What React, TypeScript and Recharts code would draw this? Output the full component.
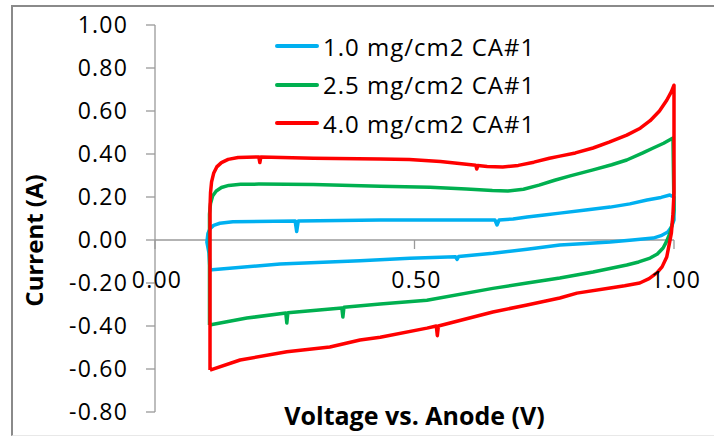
import React from 'react';
import { LineChart, Line, XAxis, YAxis, ReferenceLine, ReferenceDot, Legend } from 'recharts';

const AXIS = '#9a9a9a';
const FONT = '"Open Sans", sans-serif';

const xTicks = [0, 0.5, 1];
const yTicks = [-0.8, -0.6, -0.4, -0.2, 0, 0.2, 0.4, 0.6, 0.8, 1.0];

// 1.0 mg/cm2 CA#1 (forward scan then reverse scan)
const blueV = [0.106, 0.104, 0.1, 0.102, 0.106, 0.113, 0.125, 0.15, 0.27, 0.273, 0.276, 0.434, 0.524, 0.655, 0.659, 0.663, 0.69, 0.717, 0.75, 0.78, 0.83, 0.877, 0.915, 0.948, 0.975, 0.992, 1.0, 1.0, 0.995, 0.988, 0.975, 0.96, 0.92, 0.877, 0.83, 0.78, 0.717, 0.651, 0.585, 0.582, 0.579, 0.491, 0.395, 0.241, 0.11, 0.106];
const blueI = [-0.14, -0.06, -0.01, 0.03, 0.052, 0.068, 0.078, 0.085, 0.088, 0.04, 0.088, 0.093, 0.093, 0.093, 0.07, 0.093, 0.098, 0.107, 0.116, 0.125, 0.14, 0.153, 0.168, 0.186, 0.198, 0.209, 0.2, 0.093, 0.06, 0.037, 0.02, 0.009, 0.0, -0.009, -0.016, -0.023, -0.043, -0.062, -0.077, -0.09, -0.078, -0.085, -0.097, -0.112, -0.138, -0.14];

// 2.5 mg/cm2 CA#1
const greenV = [0.105, 0.105, 0.107, 0.111, 0.118, 0.128, 0.142, 0.165, 0.2, 0.305, 0.434, 0.53, 0.6, 0.65, 0.68, 0.71, 0.74, 0.77, 0.8, 0.844, 0.88, 0.909, 0.94, 0.96, 0.98, 0.998, 1.0, 0.997, 0.992, 0.985, 0.979, 0.968, 0.954, 0.932, 0.909, 0.844, 0.78, 0.717, 0.651, 0.524, 0.434, 0.364, 0.362, 0.36, 0.256, 0.254, 0.252, 0.177, 0.105];
const greenI = [-0.395, 0.12, 0.17, 0.205, 0.228, 0.244, 0.254, 0.259, 0.26, 0.258, 0.25, 0.245, 0.237, 0.23, 0.228, 0.236, 0.255, 0.278, 0.298, 0.326, 0.35, 0.372, 0.405, 0.428, 0.45, 0.474, 0.14, 0.08, 0.03, -0.01, -0.037, -0.065, -0.084, -0.102, -0.116, -0.149, -0.177, -0.2, -0.225, -0.28, -0.298, -0.313, -0.358, -0.316, -0.338, -0.386, -0.34, -0.363, -0.395];

// 4.0 mg/cm2 CA#1
const redV = [0.106, 0.106, 0.107, 0.109, 0.113, 0.119, 0.128, 0.141, 0.16, 0.2, 0.202, 0.204, 0.305, 0.434, 0.49, 0.55, 0.6, 0.618, 0.62, 0.622, 0.64, 0.67, 0.7, 0.73, 0.76, 0.78, 0.81, 0.844, 0.875, 0.909, 0.935, 0.954, 0.972, 0.986, 0.995, 1.0, 1.0, 0.998, 0.995, 0.99, 0.986, 0.977, 0.967, 0.952, 0.934, 0.905, 0.877, 0.813, 0.78, 0.717, 0.651, 0.546, 0.544, 0.542, 0.524, 0.434, 0.395, 0.337, 0.254, 0.164, 0.106];
const redI = [-0.605, 0.15, 0.22, 0.27, 0.31, 0.34, 0.36, 0.375, 0.384, 0.386, 0.36, 0.386, 0.38, 0.377, 0.374, 0.365, 0.352, 0.348, 0.33, 0.346, 0.342, 0.34, 0.347, 0.362, 0.38, 0.39, 0.405, 0.428, 0.455, 0.488, 0.52, 0.555, 0.6, 0.65, 0.69, 0.72, 0.22, 0.12, 0.033, -0.03, -0.079, -0.125, -0.153, -0.18, -0.2, -0.213, -0.223, -0.247, -0.27, -0.302, -0.335, -0.4, -0.445, -0.4, -0.41, -0.452, -0.465, -0.498, -0.52, -0.558, -0.605];

const toPoints = (v: number[], i: number[]) => v.map((x, k) => ({ v: x, i: i[k] }));

const series = [
  { name: '1.0 mg/cm2 CA#1', color: '#00B0F0', data: toPoints(blueV, blueI) },
  { name: '2.5 mg/cm2 CA#1', color: '#00B050', data: toPoints(greenV, greenI) },
  { name: '4.0 mg/cm2 CA#1', color: '#FF0000', data: toPoints(redV, redI) },
];

const renderLegend = ({ payload }: any) => (
  <div>
    {(payload || []).map((p: any) => (
      <div key={p.value} style={{ display: 'flex', alignItems: 'center', height: 38.5 }}>
        <span style={{ display: 'inline-block', width: 44, height: 4, background: p.color, borderRadius: 2, marginRight: 4 }} />
        <span style={{ fontFamily: FONT, fontSize: 24, letterSpacing: 1, color: '#000', whiteSpace: 'nowrap' }}>{p.value}</span>
      </div>
    ))}
  </div>
);

// tick mark + label for the x axis, which crosses at y = 0
const xTickShape = (label: string) => (p: any) => (
  <g>
    <line x1={p.cx} y1={p.cy} x2={p.cx} y2={p.cy + 9} stroke={AXIS} strokeWidth={1.3} />
    <text x={p.cx + 2} y={p.cy + 48} textAnchor="middle" fontFamily={FONT} fontSize={23} letterSpacing={1.2} fill="#000">
      {label}
    </text>
  </g>
);

export default function App() {
  return (
    <div style={{ position: 'absolute', left: 0, top: 0, width: 714, height: 436, background: '#fff', overflow: 'hidden' }}>
      <div style={{ position: 'absolute', left: 11, top: 5, width: 720, height: 428, borderTop: '2px solid #8a8a8a', borderLeft: '2px solid #8a8a8a', borderBottom: '1px solid #e8e8e8' }} />
      <LineChart width={714} height={436} margin={{ top: 25, right: 40, bottom: 0, left: 0 }} style={{ fontFamily: FONT }}>
        <XAxis
          type="number"
          dataKey="v"
          domain={[0, 1]}
          ticks={xTicks}
          tick={false}
          axisLine={false}
          tickLine={false}
          height={24}
          label={{
            content: ({ viewBox }: any) => (
              <text x={viewBox.x + viewBox.width / 2} y={viewBox.y + 13} textAnchor="middle" fontFamily={FONT} fontSize={25} fontWeight="bold" fill="#000">
                Voltage vs. Anode (V)
              </text>
            ),
          }}
        />
        <YAxis
          type="number"
          dataKey="i"
          domain={[-0.8, 1]}
          ticks={yTicks}
          interval={0}
          width={155}
          stroke={AXIS}
          tickSize={9}
          tickMargin={18}
          tickFormatter={(t: number) => t.toFixed(2)}
          tick={{ fill: '#000', fontSize: 23, fontFamily: FONT, letterSpacing: 1.2 }}
          axisLine={{ stroke: AXIS, strokeWidth: 1.3 }}
          tickLine={{ stroke: AXIS, strokeWidth: 1.3 }}
          label={{
            content: ({ viewBox }: any) => {
              const cx = viewBox.x + 33;
              const cy = viewBox.y + viewBox.height / 2 + 22;
              return (
                <text x={cx} y={cy} transform={`rotate(-90, ${cx}, ${cy})`} textAnchor="middle" dominantBaseline="central" fontFamily={FONT} fontSize={24} fontWeight="bold" fill="#000">
                  Current (A)
                </text>
              );
            },
          }}
        />
        <ReferenceLine y={0} stroke={AXIS} strokeWidth={1.3} />
        {xTicks.map((t) => (
          <ReferenceDot key={t} x={t} y={0} r={0} shape={xTickShape(t.toFixed(2))} />
        ))}
        <Legend
          layout="horizontal"
          verticalAlign="middle"
          align="center"
          wrapperStyle={{ top: 27, left: 275, width: 320 }}
          content={renderLegend}
        />
        {series.map((s) => (
          <Line
            key={s.name}
            name={s.name}
            data={s.data}
            dataKey="i"
            type="linear"
            stroke={s.color}
            strokeWidth={3.5}
            strokeLinejoin="round"
            dot={false}
            activeDot={false}
            isAnimationActive={false}
          />
        ))}
      </LineChart>
    </div>
  );
}
